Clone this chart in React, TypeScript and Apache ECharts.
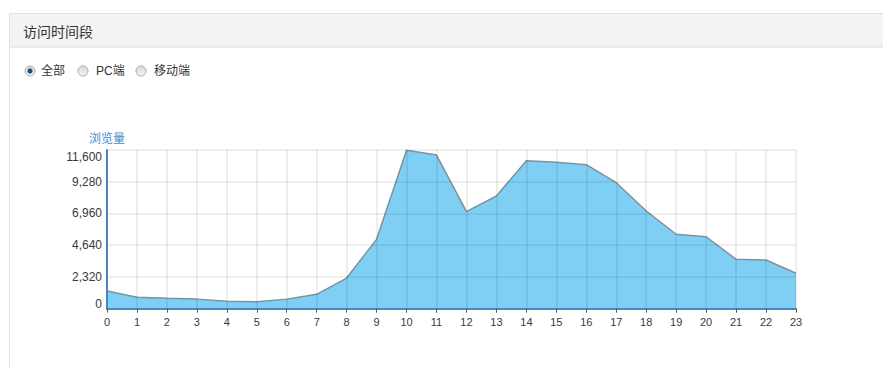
import React, { useEffect, useRef } from "react";
import * as echarts from "echarts";

const hours: string[] = ["0","1","2","3","4","5","6","7","8","9","10","11","12","13","14","15","16","17","18","19","20","21","22","23"];
const pageViews: number[] = [1300, 830, 760, 700, 540, 510, 700, 1050, 2240, 5070, 11580, 11230, 7090, 8240, 10820, 10700, 10530, 9210, 7140, 5440, 5260, 3610, 3560, 2590];
const yTicks: number[] = [0, 2320, 4640, 6960, 9280, 11600];
const radioLabels: string[] = ["全部", "PC端", "移动端"];
const titleText = "访问时间段";
const yName = "浏览量";

const FONT = "'Liberation Sans', 'Noto Sans CJK SC', sans-serif";

export default function App() {
  const ref = useRef<HTMLDivElement>(null);
  useEffect(() => {
    if (!ref.current) return;
    const chart = echarts.init(ref.current, null, { renderer: "svg" });
    const radioX = [30, 83, 141];
    const labelX = [41, 96, 154];
    const radios: any[] = [];
    radioLabels.forEach((t, i) => {
      radios.push({
        type: "circle",
        shape: { cx: radioX[i], cy: 71, r: 5 },
        style: {
          fill: new echarts.graphic.LinearGradient(0, 0, 0, 1, [
            { offset: 0, color: "#d8d8d8" },
            { offset: 1, color: "#f6f6f6" },
          ]),
          stroke: "#a8a8a8",
          lineWidth: 1,
        },
      });
      if (i === 0) {
        radios.push({
          type: "circle",
          shape: { cx: radioX[i], cy: 71, r: 2.6 },
          style: { fill: "#1f4f7f" },
        });
      }
      radios.push({
        type: "text",
        x: labelX[i],
        y: 71,
        style: {
          text: t,
          fill: "#333",
          font: `12px ${FONT}`,
          verticalAlign: "middle",
          align: "left",
        },
      });
    });
    const fmt = (v: number) => v.toLocaleString("en-US");
    chart.setOption({
      animation: false,
      graphic: [
        {
          type: "rect",
          shape: { x: 9.5, y: 13.5, width: 900, height: 400 },
          style: { fill: "#fff", stroke: "#e2e2e2", lineWidth: 1 },
          z: -10,
        },
        {
          type: "rect",
          shape: { x: 10, y: 14, width: 900, height: 33 },
          style: { fill: "#f3f3f3" },
          z: -9,
        },
        {
          type: "line",
          shape: { x1: 10, y1: 47, x2: 900, y2: 47 },
          style: { stroke: "#e6e6e6", lineWidth: 1.5 },
          z: -8,
        },
        {
          type: "text",
          x: 23,
          y: 31.5,
          style: {
            text: titleText,
            fill: "#333",
            font: `14px ${FONT}`,
            verticalAlign: "middle",
          },
        },
        ...radios,
      ],
      grid: { left: 107, right: 87, top: 150, bottom: 60.3, containLabel: false },
      xAxis: {
        type: "category",
        data: hours,
        boundaryGap: false,
        offset: 1.5,
        z: 5,
        axisLine: { show: true, lineStyle: { color: "#4a86c0", width: 2 } },
        axisTick: { show: true, length: 4, lineStyle: { color: "#555" } },
        axisLabel: { color: "#3a3a3a", fontSize: 11, fontFamily: FONT, margin: 6, interval: 0 },
        splitLine: { show: true, lineStyle: { color: "rgba(0,0,0,0.085)", width: 1.6 } },
      },
      yAxis: {
        type: "value",
        min: 0,
        max: 11600,
        interval: 2320,
        z: 5,
        name: yName,
        nameLocation: "end",
        nameGap: 5,
        nameTextStyle: { color: "#3f8cc8", fontSize: 12, fontFamily: FONT, align: "center" },
        axisLine: { show: true, lineStyle: { color: "#4a86c0", width: 2 } },
        axisTick: { show: false },
        axisLabel: {
          color: "#3a3a3a",
          fontSize: 12,
          fontFamily: FONT,
          margin: 5,
          formatter: (v: number) => {
            if (v === yTicks[yTicks.length - 1]) return `{top|${fmt(v)}}`;
            if (v === yTicks[0]) return `{bot|${fmt(v)}}`;
            return fmt(v);
          },
          rich: {
            top: { padding: [14, 0, 0, 0], fontSize: 12, color: "#3a3a3a", fontFamily: FONT },
            bot: { padding: [0, 0, 9, 0], fontSize: 12, color: "#3a3a3a", fontFamily: FONT },
          },
        },
        splitLine: { show: true, lineStyle: { color: "rgba(0,0,0,0.085)", width: 1.6 } },
      },
      series: [
        {
          type: "line",
          data: pageViews,
          showSymbol: false,
          symbol: "none",
          lineStyle: { color: "#858f97", width: 1.5 },
          areaStyle: { color: "#7fcff4", opacity: 1 },
          z: 2,
        },
      ],
    });
    return () => chart.dispose();
  }, []);
  return (
    <div
      ref={ref}
      style={{ position: "fixed", left: 0, top: 0, width: 883, height: 369, background: "#fff" }}
    />
  );
}
